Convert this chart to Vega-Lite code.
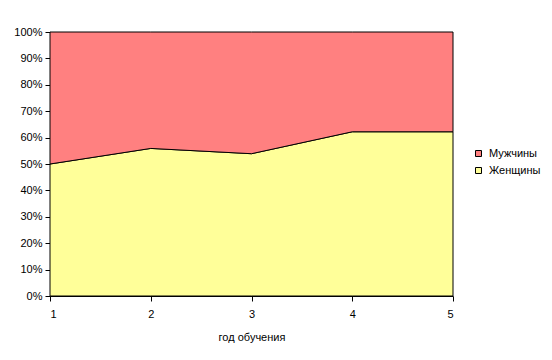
{
  "$schema": "https://vega.github.io/schema/vega-lite/v6.json",
  "width": 403,
  "height": 264,
  "autosize": "none",
  "padding": {"left": 50, "top": 32, "right": 99, "bottom": 64},
  "background": "white",
  "data": {
    "values": [
      {"year": 1, "sex": "Женщины", "value": 50.0, "ord": 1},
      {"year": 2, "sex": "Женщины", "value": 55.9, "ord": 1},
      {"year": 3, "sex": "Женщины", "value": 53.9, "ord": 1},
      {"year": 4, "sex": "Женщины", "value": 62.2, "ord": 1},
      {"year": 5, "sex": "Женщины", "value": 62.2, "ord": 1},
      {"year": 1, "sex": "Мужчины", "value": 50.0, "ord": 2},
      {"year": 2, "sex": "Мужчины", "value": 44.1, "ord": 2},
      {"year": 3, "sex": "Мужчины", "value": 46.1, "ord": 2},
      {"year": 4, "sex": "Мужчины", "value": 37.8, "ord": 2},
      {"year": 5, "sex": "Мужчины", "value": 37.8, "ord": 2}
    ]
  },
  "mark": {"type": "area", "stroke": "black", "strokeWidth": 1, "opacity": 1},
  "encoding": {
    "x": {
      "field": "year",
      "type": "quantitative",
      "scale": {"domain": [1, 5], "nice": false, "zero": false},
      "axis": {"values": [1, 2, 3, 4, 5], "format": "d", "title": "год обучения", "grid": false, "titlePadding": 12, "labelPadding": 7}
    },
    "y": {
      "field": "value",
      "type": "quantitative",
      "stack": "normalize",
      "scale": {"domain": [0, 1]},
      "axis": {"values": [0, 0.1, 0.2, 0.3, 0.4, 0.5, 0.6, 0.7, 0.8, 0.9, 1], "format": ".0%", "title": null, "grid": false, "labelPadding": 3}
    },
    "color": {
      "field": "sex",
      "type": "nominal",
      "scale": {"domain": ["Мужчины", "Женщины"], "range": ["#FF8080", "#FFFF99"]},
      "legend": {
        "title": null,
        "orient": "none",
        "legendX": 423,
        "legendY": 116,
        "symbolType": "square",
        "symbolSize": 36,
        "symbolStrokeColor": "black",
        "symbolStrokeWidth": 1,
        "symbolOpacity": 1,
        "rowPadding": 5,
        "labelOffset": 5
      }
    },
    "order": {"field": "ord", "type": "quantitative"}
  },
  "config": {
    "font": "Liberation Sans",
    "view": {"stroke": null},
    "axis": {
      "labelFont": "Liberation Sans",
      "labelFontSize": 11,
      "labelColor": "black",
      "titleFont": "Liberation Sans",
      "titleFontSize": 11,
      "titleFontWeight": "normal",
      "titleColor": "black",
      "domainColor": "black",
      "tickColor": "black",
      "tickSize": 5
    },
    "legend": {
      "labelFont": "Liberation Sans",
      "labelFontSize": 11,
      "labelColor": "black"
    }
  }
}
